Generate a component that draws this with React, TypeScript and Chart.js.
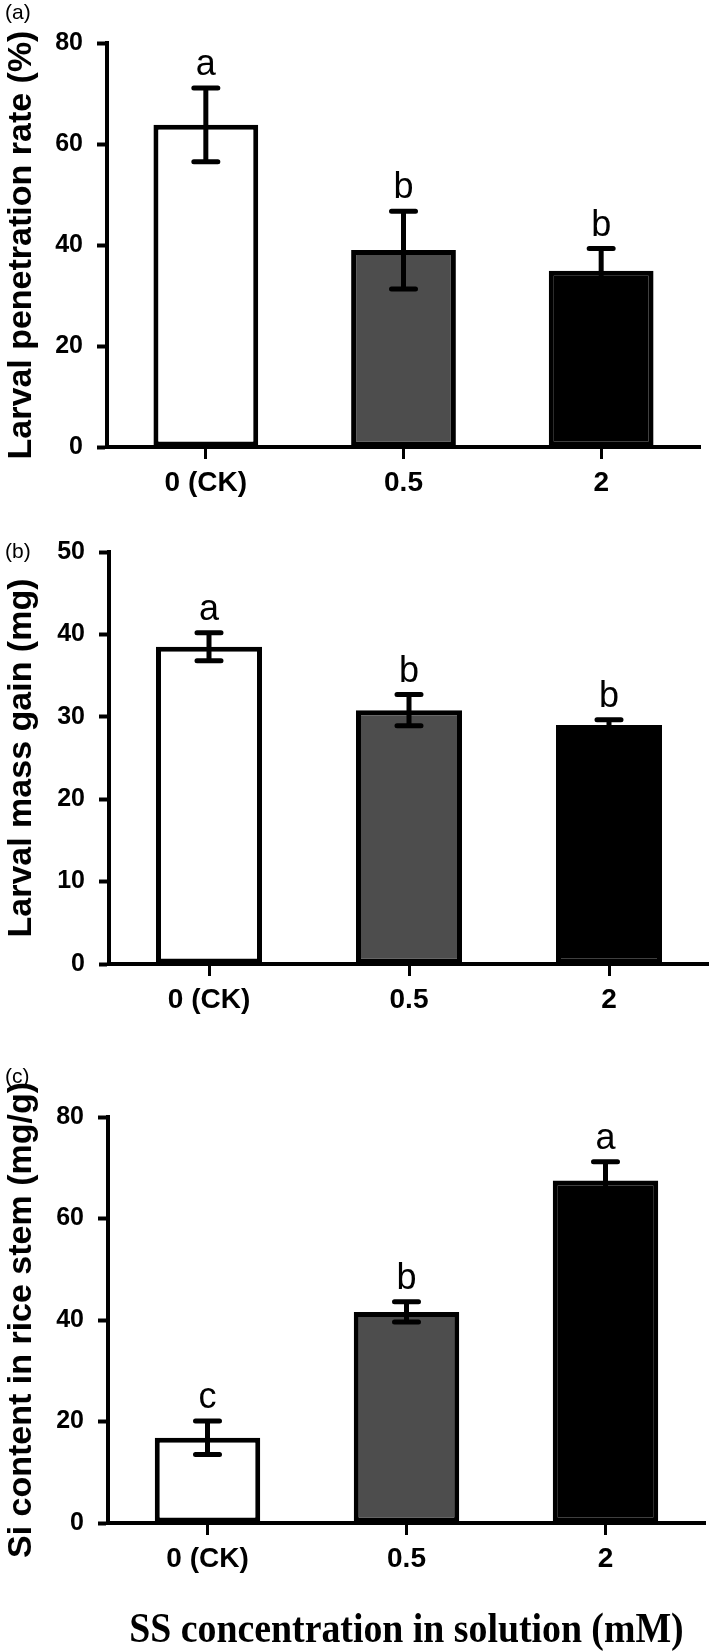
import React, { useEffect, useRef } from 'react';
import { Chart, registerables } from 'chart.js';

Chart.register(...registerables);

const SANS = '"Liberation Sans", Arial, Helvetica, sans-serif';
const SERIF = '"Liberation Serif", "Times New Roman", serif';

// ---- data ----
const categories = ['0 (CK)', '0.5', '2'];
const barColors = ['#ffffff', '#4d4d4d', '#000000'];

const penetrationMeans = [63.8, 39.0, 34.9];
const penetrationErrors = [7.3, 7.7, 4.4];
const penetrationLetters = ['a', 'b', 'b'];
const penetrationTicks = [0, 20, 40, 60, 80];

const massMeans = [38.5, 30.8, 29.0];
const massErrors = [1.7, 1.9, 0.65];
const massLetters = ['a', 'b', 'b'];
const massTicks = [0, 10, 20, 30, 40, 50];

const siMeans = [16.8, 41.6, 67.5];
const siErrors = [3.3, 2.0, 3.7];
const siLetters = ['c', 'b', 'a'];
const siTicks = [0, 20, 40, 60, 80];

const panelLabels = ['(a)', '(b)', '(c)'];
const yTitles = [
  'Larval penetration rate (%)',
  'Larval mass gain (mg)',
  'Si content in rice stem (mg/g)',
];
const xTitle = 'SS concentration in solution (mM)';

// ---- layout ----
const panels = [
  { top: 0, height: 520, areaTop: 43, xAxisH: 73, left: 107, right: 700, labelY: 13,
    means: penetrationMeans, errors: penetrationErrors, letters: penetrationLetters, ticks: penetrationTicks,
    label: panelLabels[0], yTitle: yTitles[0], xTitle: null as string | null },
  { top: 520, height: 520, areaTop: 32, xAxisH: 76, left: 109, right: 709, labelY: 32,
    means: massMeans, errors: massErrors, letters: massLetters, ticks: massTicks,
    label: panelLabels[1], yTitle: yTitles[1], xTitle: null as string | null },
  { top: 1040, height: 611, areaTop: 77, xAxisH: 128, left: 108, right: 705, labelY: 37,
    means: siMeans, errors: siErrors, letters: siLetters, ticks: siTicks,
    label: panelLabels[2], yTitle: yTitles[2], xTitle: xTitle as string | null },
];

type PanelCfg = typeof panels[number];

function Panel({ cfg }: { cfg: PanelCfg }) {
  const ref = useRef<HTMLCanvasElement | null>(null);

  useEffect(() => {
    if (!ref.current) return;
    const overlay = {
      id: 'overlay',
      afterDatasetsDraw(chart: any) {
        const { ctx, chartArea } = chart;
        const xs = chart.scales.x;
        const ys = chart.scales.y;
        ctx.save();
        ctx.strokeStyle = '#000';
        ctx.fillStyle = '#000';
        ctx.lineWidth = 5;
        cfg.means.forEach((m: number, i: number) => {
          const px = xs.getPixelForValue(i);
          const top = ys.getPixelForValue(m + cfg.errors[i]);
          const bot = ys.getPixelForValue(m - cfg.errors[i]);
          ctx.lineCap = 'butt';
          ctx.beginPath();
          ctx.moveTo(px, bot);
          ctx.lineTo(px, top);
          ctx.stroke();
          ctx.lineCap = 'round';
          ctx.beginPath();
          ctx.moveTo(px - 12, top);
          ctx.lineTo(px + 12, top);
          ctx.moveTo(px - 12, bot);
          ctx.lineTo(px + 12, bot);
          ctx.stroke();
          ctx.font = `36px ${SANS}`;
          ctx.textAlign = 'center';
          ctx.textBaseline = 'alphabetic';
          ctx.fillText(cfg.letters[i], px, top - 13);
        });
        // panel label
        ctx.font = `21px ${SANS}`;
        ctx.textAlign = 'left';
        ctx.textBaseline = 'middle';
        ctx.fillText(cfg.label, 5, cfg.labelY);
        // y title
        ctx.save();
        ctx.translate(31, (chartArea.top + chartArea.bottom) / 2);
        ctx.rotate(-Math.PI / 2);
        ctx.font = `bold 34px ${SANS}`;
        ctx.textAlign = 'center';
        ctx.textBaseline = 'alphabetic';
        ctx.fillText(cfg.yTitle, 0, 0);
        ctx.restore();
        // x title
        if (cfg.xTitle) {
          ctx.save();
          ctx.translate((chartArea.left + chartArea.right) / 2, 602);
          ctx.scale(0.9, 1);
          ctx.font = `bold 42px ${SERIF}`;
          ctx.textAlign = 'center';
          ctx.textBaseline = 'alphabetic';
          ctx.fillText(cfg.xTitle, 0, 0);
          ctx.restore();
        }
        ctx.restore();
      },
    };

    const tks = cfg.ticks;
    const chart = new Chart(ref.current, {
      type: 'bar',
      data: {
        labels: categories,
        datasets: [
          {
            data: cfg.means,
            backgroundColor: barColors,
            borderColor: '#000',
            borderWidth: 5,
            borderSkipped: false,
            barPercentage: 0.53,
            categoryPercentage: 1,
          },
        ],
      },
      options: {
        responsive: false,
        animation: false,
        devicePixelRatio: 1,
        layout: { padding: { top: cfg.areaTop, left: 0, right: 709 - cfg.right, bottom: 0 } },
        plugins: { legend: { display: false }, tooltip: { enabled: false }, title: { display: false } },
        scales: {
          x: {
            type: 'category',
            offset: true,
            grid: {
              display: true,
              drawOnChartArea: false,
              drawTicks: true,
              tickLength: 12,
              tickWidth: 3,
              tickColor: '#000',
              offset: false,
            },
            border: { display: true, color: '#000', width: 4 },
            ticks: {
              color: '#000',
              font: { family: SANS, size: 28, weight: 'bold' },
              padding: 7,
              maxRotation: 0,
              autoSkip: false,
            },
            afterFit: (s: any) => {
              s.height = cfg.xAxisH;
            },
          },
          y: {
            min: tks[0],
            max: tks[tks.length - 1],
            grid: {
              display: true,
              drawOnChartArea: false,
              drawTicks: true,
              tickLength: 10,
              tickWidth: 4,
              tickColor: '#000',
            },
            border: { display: true, color: '#000', width: 4 },
            ticks: {
              stepSize: tks[1] - tks[0],
              color: '#000',
              font: { family: SANS, size: 25, weight: 'bold' },
              padding: 14,
            },
            afterFit: (s: any) => {
              s.width = cfg.left;
            },
          },
        },
      },
      plugins: [overlay],
    } as any);
    return () => chart.destroy();
  }, [cfg]);

  return (
    <canvas
      ref={ref}
      width={709}
      height={cfg.height}
      style={{ position: 'absolute', left: 0, top: cfg.top, width: 709, height: cfg.height, display: 'block' }}
    />
  );
}

export default function App() {
  return (
    <div style={{ position: 'absolute', left: 0, top: 0, width: 709, height: 1651, background: '#fff' }}>
      {panels.map((p, i) => (
        <Panel key={i} cfg={p} />
      ))}
    </div>
  );
}
